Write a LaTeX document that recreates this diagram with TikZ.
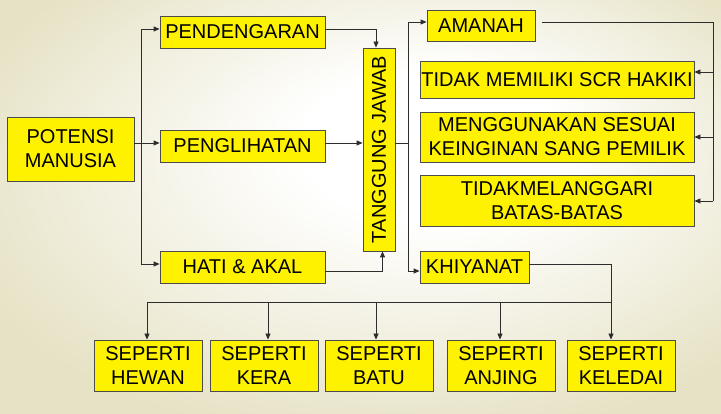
\documentclass[tikz,border=0pt]{standalone}
\usepackage{fontspec}
\setmainfont{Liberation Sans}
\usepackage{graphicx}
\usetikzlibrary{arrows.meta}
\definecolor{latar}{RGB}{230,226,197}
\definecolor{garis}{RGB}{45,45,45}
\pgfdeclareradialshading{latarshade}{\pgfpoint{6bp}{9bp}}{color(0bp)=(white); color(9bp)=(white); color(32bp)=(latar); color(50bp)=(latar)}
\tikzstyle{kotak}=[draw=black!70,fill=yellow,text=black,inner sep=0pt,align=center,font=\fontsize{20}{24}\selectfont]
\tikzstyle{sedang}=[kotak,minimum width=165pt,minimum height=32pt]
\tikzstyle{lebar}=[kotak,minimum width=274pt]
\tikzstyle{seperti}=[kotak,minimum width=108pt,minimum height=51pt]
\tikzstyle{panah}=[-{Triangle[length=6pt,width=5pt]}]

\begin{document}
\begin{tikzpicture}[x=1pt,y=-1pt,line width=0.8pt,color=garis]
	\useasboundingbox (0,0) rectangle (721,414);
	\shade[shading=latarshade] (0,0) rectangle (721,414);

	% kiri
	\node[kotak,minimum width=127pt,minimum height=64pt] (potensi) at (70.5,149) {POTENSI\\MANUSIA};
	\node[sedang] (pend)  at (242.5,32)  {PENDENGARAN};
	\node[sedang] (lihat) at (242.5,146) {PENGLIHATAN};
	\node[sedang] (hati)  at (242.5,267) {HATI \& AKAL};
	\node[kotak,minimum width=32pt,minimum height=203pt] (tj) at (379,149.5) {\rotatebox{90}{TANGGUNG JAWAB}};

	% kanan
	\node[kotak,minimum width=108pt,minimum height=31pt] (amanah) at (481,25.5) {AMANAH};
	\node[lebar,minimum height=37pt] (hakiki) at (557,79.5) {TIDAK MEMILIKI SCR HAKIKI};
	\node[lebar,minimum height=50pt] (sesuai) at (557,137) {MENGGUNAKAN SESUAI\\KEINGINAN SANG PEMILIK};
	\node[lebar,minimum height=51pt] (batas) at (557,200.5) {TIDAKMELANGGARI\\BATAS-BATAS};
	\node[kotak,minimum width=109pt,minimum height=32pt] (khianat) at (474.5,267) {KHIYANAT};

	% bawah
	\node[seperti] (hewan)   at (148,365.5) {SEPERTI\\HEWAN};
	\node[seperti] (kera)    at (264,365.5) {SEPERTI\\KERA};
	\node[seperti] (batu)    at (379,365.5) {SEPERTI\\BATU};
	\node[seperti] (anjing)  at (501,365.5) {SEPERTI\\ANJING};
	\node[seperti] (keledai) at (621,365.5) {SEPERTI\\KELEDAI};

	\coordinate (cabang1) at (141,143);
	\coordinate (cabang2) at (408,143);
	\coordinate (kanan1) at (713,72);
	\coordinate (kanan2) at (713,137);
	\coordinate (kanan3) at (713,201);
	\coordinate (turun1) at (147,302);
	\coordinate (turun2) at (268,302);
	\coordinate (turun3) at (376,302);
	\coordinate (turun4) at (500,302);
	\coordinate (bus) at (611,302);

	\draw[panah] ([yshift=6pt]potensi.east) -- ([yshift=3pt]lihat.west);
	\draw[panah] (cabang1) |- ([yshift=3pt]pend.west);
	\draw[panah] (cabang1) |- ([yshift=3pt]hati.west);
	\draw[panah] ([yshift=3pt]pend.east) -| ([xshift=-3pt]tj.north);
	\draw[panah] ([yshift=3pt]lihat.east) -- ([yshift=6.5pt]tj.west);
	\draw[panah] ([yshift=-4pt]hati.east) -| ([xshift=3.5pt]tj.south);

	\draw ([yshift=6.5pt]tj.east) -- (cabang2);
	\draw[panah] (cabang2) |- ([yshift=3.5pt]amanah.west);
	\draw[panah] (cabang2) |- ([yshift=-4pt]khianat.west);

	\draw ([xshift=7pt,yshift=3.5pt]amanah.east) -| (kanan3);
	\foreach \k/\b in {kanan1/hakiki,kanan2/sesuai,kanan3/batas}
		\draw[panah] (\k) -- (\k -| \b.east);

	\draw[panah] ([yshift=3pt]khianat.east) -| ([xshift=-10pt]keledai.north);
	\draw (turun1) -- (bus);
	\foreach \t/\s in {turun1/hewan,turun2/kera,turun3/batu,turun4/anjing}
		\draw[panah] (\t) -- (\t |- \s.north);
\end{tikzpicture}
\end{document}
